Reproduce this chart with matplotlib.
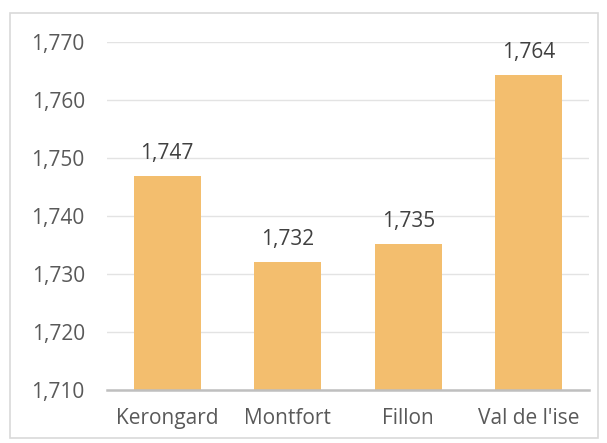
import matplotlib
matplotlib.use('Agg')
import matplotlib.pyplot as plt
from matplotlib.patches import Rectangle
from matplotlib.ticker import FuncFormatter

categories = ['Kerongard', 'Montfort', 'Fillon', "Val de l'ise"]
values = [1746.9, 1732.1, 1735.2, 1764.3]
labels = ['1,747', '1,732', '1,735', '1,764']
yticks = [1710, 1720, 1730, 1740, 1750, 1760, 1770]

plt.rcParams['font.family'] = ['Open Sans', 'DejaVu Sans']
txt = '#595959'

fig = plt.figure(figsize=(6.07, 4.43), dpi=100)
ax = fig.add_axes([107 / 607, 1 - 390 / 443, 482 / 607, 348 / 443])

# chart border like Excel
fig.patches.append(Rectangle((10 / 607, 5 / 443), 588 / 607, 425 / 443,
                             transform=fig.transFigure, fill=False,
                             edgecolor='#D9D9D9', linewidth=1.2))

x = range(len(categories))
ax.bar(x, values, width=0.56, color='#F3BE6E', zorder=3)
for i, (v, lab) in enumerate(zip(values, labels)):
    ax.text(i, v + 2.0, lab, ha='center', va='bottom', fontsize=15, color='#404040')

ax.set_xlim(-0.5, len(categories) - 0.5)
ax.set_ylim(1710, 1770)
ax.set_yticks(yticks)
ax.yaxis.set_major_formatter(FuncFormatter(lambda v, p: f'{int(v):,}'))
ax.set_xticks(list(x))
ax.set_xticklabels(categories)
ax.grid(axis='y', color='#E3E3E3', linewidth=1, zorder=0)
for s in ['top', 'right', 'left']:
    ax.spines[s].set_visible(False)
ax.spines['bottom'].set_color('#BFBFBF')
ax.spines['bottom'].set_linewidth(1.8)
ax.spines['bottom'].set_zorder(4)
ax.tick_params(axis='both', length=0, labelsize=15, labelcolor=txt)
ax.tick_params(axis='y', pad=16)
ax.tick_params(axis='x', pad=13)

fig.savefig('out.png', dpi=100)
